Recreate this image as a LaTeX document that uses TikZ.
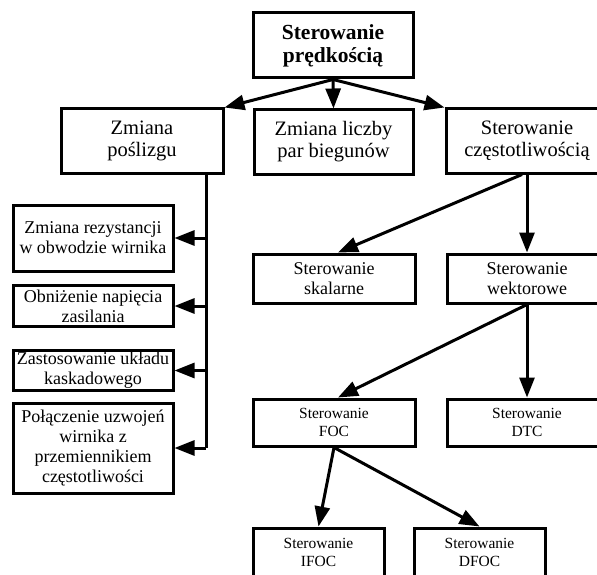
\documentclass[tikz,border=0pt]{standalone}
\usepackage{fontspec}
\setmainfont{Liberation Serif}
\usetikzlibrary{arrows.meta}

\begin{document}
\begin{tikzpicture}[x=1pt, y=-1pt,
  blok/.style={draw=black, line width=3pt, inner sep=1pt, align=center},
  duzy/.style={font=\fontsize{20.5}{22}\selectfont},
  sredni/.style={font=\fontsize{18}{20}\selectfont},
  maly/.style={font=\fontsize{15.5}{18}\selectfont},
  strzalka/.style={line width=3pt, -{Triangle[length=20pt, width=15pt]}},
  linia/.style={line width=3pt}]
  \useasboundingbox (0,0) rectangle (597,575);
  % poziom 1
  \node[blok, font=\bfseries\fontsize{21.5}{23}\selectfont, minimum width=160pt, minimum height=65pt] (glowny) at (333,45.5) {Sterowanie\\prędkością};
  % poziom 2
  \node[blok, duzy, minimum width=162pt, minimum height=64pt] (poslizg) at (142,141) {Zmiana\\poślizgu};
  \node[blok, duzy, minimum width=159pt, minimum height=64pt] (bieguny) at (333.5,142) {Zmiana liczby\\par biegunów};
  \node[blok, duzy, minimum width=162pt, minimum height=64pt] (czest) at (527,141) {Sterowanie\\częstotliwością};
  % lewa kolumna
  \node[blok, sredni, minimum width=160pt, minimum height=66pt] (rezyst) at (93,238) {Zmiana rezystancji\\w obwodzie wirnika};
  \node[blok, sredni, minimum width=160pt, minimum height=41pt] (napiecie) at (93,306) {Obniżenie napięcia\\zasilania};
  \node[blok, sredni, minimum width=160pt, minimum height=40pt] (kaskada) at (93,370.5) {Zastosowanie układu\\kaskadowego};
  \node[blok, sredni, minimum width=160pt, minimum height=90pt] (uzwojenia) at (93,448) {Połączenie uzwojeń\\wirnika z\\przemiennikiem\\częstotliwości};
  % prawa strona
  \node[blok, sredni, minimum width=162pt, minimum height=49pt] (skalar) at (334,278.5) {Sterowanie\\skalarne};
  \node[blok, sredni, minimum width=160pt, minimum height=49pt] (wektor) at (527,278.5) {Sterowanie\\wektorowe};
  \node[blok, maly, minimum width=162pt, minimum height=47pt] (foc) at (334,422.5) {Sterowanie\\FOC};
  \node[blok, maly, minimum width=160pt, minimum height=47pt] (dtc) at (527,422.5) {Sterowanie\\DTC};
  \node[blok, maly, minimum width=131pt, minimum height=49pt] (ifoc) at (318.5,552.5) {Sterowanie\\IFOC};
  \node[blok, maly, minimum width=131pt, minimum height=49pt] (dfoc) at (479.5,552.5) {Sterowanie\\DFOC};

  % polaczenia
  \draw[strzalka] (glowny.south) -- (poslizg.north east);
  \draw[strzalka] (glowny.south) -- (bieguny.north);
  \draw[strzalka] (glowny.south) -- (czest.north west);

  \coordinate (pion) at (206,448);
  \draw[linia] (poslizg.south -| pion) -- (pion);
  \draw[strzalka] (pion |- rezyst.east) -- (rezyst.east);
  \draw[strzalka] (pion |- napiecie.east) -- (napiecie.east);
  \draw[strzalka] (pion |- kaskada.east) -- (kaskada.east);
  \draw[strzalka] (pion |- uzwojenia.east) -- (uzwojenia.east);

  \draw[strzalka] (czest.south) -- (wektor.north);
  \draw[strzalka] ([xshift=-5pt]czest.south) -- ([xshift=4pt]skalar.north);
  \draw[strzalka] (wektor.south) -- (dtc.north);
  \draw[strzalka] (wektor.south) -- ([xshift=4pt]foc.north);
  \draw[strzalka] (foc.south) -- (ifoc.north);
  \draw[strzalka] (foc.south) -- (dfoc.north);
\end{tikzpicture}
\end{document}
